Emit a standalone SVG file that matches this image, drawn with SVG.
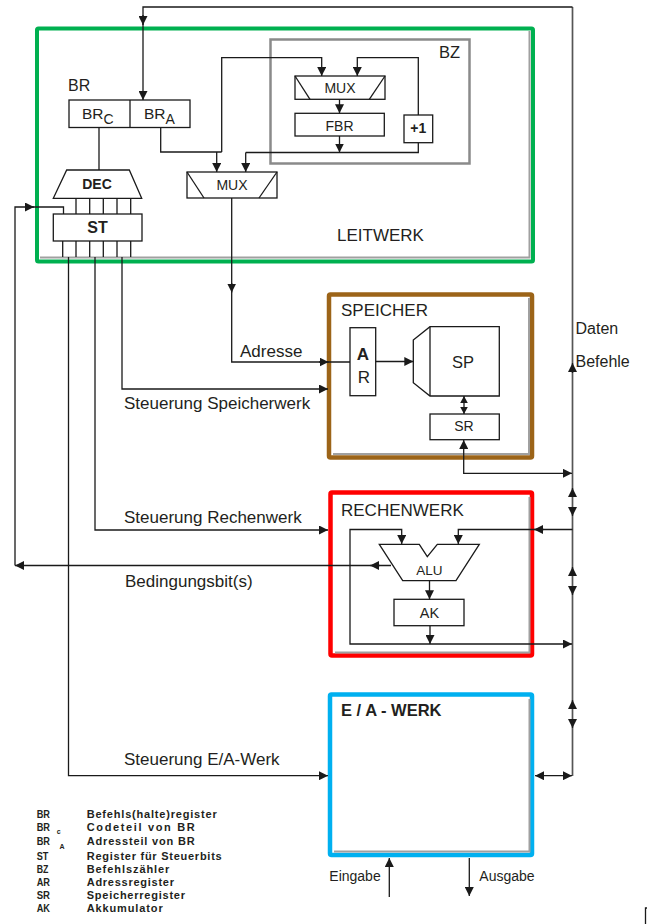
<svg xmlns="http://www.w3.org/2000/svg" width="647" height="924" viewBox="0 0 647 924">
<defs>
<marker id="ah" markerUnits="userSpaceOnUse" markerWidth="10" markerHeight="9" refX="9" refY="4.5" orient="auto-start-reverse"><path d="M0,0 L9,4.5 L0,9 z" fill="#1a1a1a"/></marker>
<marker id="as" markerUnits="userSpaceOnUse" markerWidth="8" markerHeight="8" refX="7" refY="3.8" orient="auto-start-reverse"><path d="M0,0 L7,3.8 L0,7.6 z" fill="#1a1a1a"/></marker>
<style>
.ln{fill:none;stroke:#1a1a1a;stroke-width:1.3}
.ar{fill:none;stroke:#1a1a1a;stroke-width:1.3;marker-end:url(#ah)}
.bus{fill:none;stroke:#555;stroke-width:1.7}
.box{fill:none;stroke:#1a1a1a;stroke-width:1.3}
.sh{fill:none;stroke:#a0a0a0;stroke-width:2}
.t{font-family:"Liberation Sans",Arial,Helvetica,sans-serif;fill:#231f20}
.lbl{font-size:17px}
.sm{font-size:14px}
.b{font-weight:bold}
.m{text-anchor:middle}
.lg{font-size:11px;font-weight:bold}
</style>
</defs>
<rect width="647" height="924" fill="#fff"/>

<g id="leitwerk">
<rect x="37" y="28.5" width="496" height="233" rx="1.5" fill="none" stroke="#00b050" stroke-width="4"/>
<path class="sh" d="M40,257.5 H529.5 V31"/>
<text class="t lbl" x="337" y="240.5">LEITWERK</text>
</g>

<g id="br">
<text class="t" x="68" y="90.5" font-size="16">BR</text>
<rect class="box" x="69" y="100" width="121" height="27.5"/>
<line class="ln" x1="130" y1="100" x2="130" y2="127.5"/>
<text class="t" x="82" y="118.5" font-size="15.5">BR<tspan font-size="14" dy="5">C</tspan></text>
<text class="t" x="144" y="118.5" font-size="15.5">BR<tspan font-size="14" dy="5">A</tspan></text>
</g>

<g id="dec">
<polygon class="box" points="66.7,170 129.3,170 141.7,198.3 53.3,198.3"/>
<text class="t b m" x="97" y="189.3" font-size="14">DEC</text>
</g>

<g id="st">
<rect class="box" x="53.3" y="214" width="88.7" height="27"/>
<text class="t b m" x="97.5" y="233.3" font-size="16">ST</text>
</g>

<g id="bz">
<rect x="270.5" y="39.5" width="199" height="124" fill="none" stroke="#8a8a8a" stroke-width="2.5"/>
<text class="t" x="439" y="58" font-size="16.5">BZ</text>
<g id="mux-bz">
<rect class="box" x="295" y="76" width="90" height="23.3"/>
<line class="ln" x1="295" y1="76" x2="310" y2="99.3"/>
<line class="ln" x1="385" y1="76" x2="369.3" y2="99.3"/>
<text class="t m" x="340" y="92.7" font-size="14">MUX</text>
</g>
<g id="fbr">
<rect class="box" x="295" y="113.3" width="89.3" height="22.7"/>
<text class="t m" x="339.5" y="130.7" font-size="14">FBR</text>
</g>
<g id="inc">
<rect class="box" x="404" y="115" width="28.7" height="27.7"/>
<text class="t b m" x="418.3" y="133.3" font-size="14">+1</text>
</g>
</g>

<g id="mux">
<rect class="box" x="187" y="172" width="90" height="26"/>
<line class="ln" x1="187" y1="172" x2="204" y2="198"/>
<line class="ln" x1="277" y1="172" x2="259" y2="198"/>
<text class="t m" x="232" y="190" font-size="14">MUX</text>
</g>

<g id="speicher">
<rect x="329" y="294.5" width="203" height="163" rx="1.5" fill="none" stroke="#9c6418" stroke-width="4.5"/>
<path class="sh" d="M333,454 H529 V298"/>
<text class="t lbl" x="341" y="315.7">SPEICHER</text>
<g id="ar-reg">
<rect class="box" x="350" y="327.7" width="25.7" height="68"/>
<text class="t b m" x="363" y="360" font-size="17">A</text>
<text class="t m" x="364" y="383" font-size="17">R</text>
</g>
<g id="sp">
<polygon class="box" points="413.3,340 430,326.7 499.3,326.7 499.3,396 430,396 413.3,382.7"/>
<line class="ln" x1="430" y1="326.7" x2="430" y2="396"/>
<text class="t m" x="463" y="368" font-size="16.5">SP</text>
</g>
<g id="sr">
<rect class="box" x="430" y="414" width="69.3" height="25.7"/>
<text class="t m" x="464" y="431" font-size="14">SR</text>
</g>
</g>

<g id="rechenwerk">
<rect x="330.5" y="492.5" width="201.5" height="163" rx="1.5" fill="none" stroke="#ff0000" stroke-width="4.5"/>
<path class="sh" d="M335,652.5 H529.5 V497"/>
<text class="t lbl" x="341" y="515.7">RECHENWERK</text>
<g id="alu">
<polygon class="box" points="379.3,544.3 419.3,544.3 427.3,556.7 437.3,544.3 479.3,544.3 456,580.7 402.7,580.7"/>
<text class="t m" x="429.5" y="575" font-size="13.5">ALU</text>
</g>
<g id="ak">
<rect class="box" x="394" y="599.3" width="70" height="26.4"/>
<text class="t m" x="429.5" y="618" font-size="14.5">AK</text>
</g>
</g>

<g id="ea-werk">
<rect x="330" y="694.5" width="202" height="160.5" rx="1.5" fill="none" stroke="#00b0f0" stroke-width="4.5"/>
<path class="sh" d="M334,851.5 H529.5 V699"/>
<text class="t b" x="341" y="716" font-size="16.5">E / A - WERK</text>
</g>

<g id="connectors">
<path class="bus" d="M572.5,7 V776"/>
<path class="ar" d="M572.5,373 V363"/>
<path class="ar" d="M572.5,497 V488"/>
<path class="ar" d="M572.5,507 V516"/>
<path class="ar" d="M572.5,576 V567"/>
<path class="ar" d="M572.5,586 V595"/>
<path class="ar" d="M572.5,709 V700"/>
<path class="ar" d="M572.5,719 V728"/>
<path class="ar" d="M572.5,7 H143 V100"/>
<path class="ar" d="M143,15 V25"/>
<path class="ln" d="M99,127.5 V170"/>
<path class="ln" d="M76,198.3 V214 M89.7,198.3 V214 M103.3,198.3 V214 M117,198.3 V214 M130.7,198.3 V214"/>
<path class="ln" d="M62.7,241 V257 M76,241 V257 M89.7,241 V257 M103.3,241 V257 M117,241 V257 M130.7,241 V257"/>
<path class="ar" d="M68.5,257 V775.7 H328"/>
<path class="ar" d="M95,257 V530 H328"/>
<path class="ar" d="M122,257 V389 H328"/>
<path class="ln" d="M15,565.5 V207 H63.5 V214"/>
<path class="ar" d="M25,207 H34"/>
<path class="ar" d="M391,565.5 H15"/>
<path class="ar" d="M380,565.5 H370"/>
<path class="ln" d="M160.7,127.5 V152 H221.7"/>
<path class="ar" d="M221.7,152 V57.7 H321.7 V76"/>
<path class="ar" d="M216.7,152 V172"/>
<path class="ar" d="M418.3,115 V57.7 H357.3 V76"/>
<path class="ar" d="M339.5,99.3 V113.3"/>
<path class="ar" d="M339.5,136 V152.5"/>
<path class="ln" d="M245.7,152.5 H418.3 V142.7"/>
<path class="ar" d="M245.7,152.5 V172"/>
<path class="ln" d="M231.7,198 V362 H350"/>
<path class="ar" d="M231.7,283 V292.5"/>
<path class="ar" d="M319,362 H328.5"/>
<path class="ar" d="M375.7,361.5 H413.3"/>
<path class="ln" d="M464,396 V414" style="marker-start:url(#as);marker-end:url(#as)"/>
<path class="ar" d="M463.7,440 V473.3 H572" style="marker-start:url(#ah)"/>
<path class="ar" d="M572.5,529.5 H458.3 V544"/>
<path class="ar" d="M544,529.5 H534"/>
<path class="ar" d="M401.7,544 V529.5 H350 V644 H572" style="marker-start:url(#ah)"/>
<path class="ar" d="M429.5,580.7 V599.3"/>
<path class="ar" d="M430,626 V644"/>
<path class="ar" d="M535,775.7 H572" style="marker-start:url(#ah)"/>
<path class="ar" d="M389.3,897 V858"/>
<path class="ar" d="M469.3,858 V896"/>
</g>

<g id="labels">
<text class="t lbl" x="240" y="357">Adresse</text>
<text class="t lbl" x="124" y="409.3">Steuerung Speicherwerk</text>
<text class="t lbl" x="124" y="522.7">Steuerung Rechenwerk</text>
<text class="t lbl" x="125" y="586.7">Bedingungsbit(s)</text>
<text class="t lbl" x="124" y="765">Steuerung E/A-Werk</text>
<text class="t" x="575.5" y="334.3" font-size="16">Daten</text>
<text class="t" x="575.5" y="367.3" font-size="16">Befehle</text>
<text class="t sm" x="329.3" y="881">Eingabe</text>
<text class="t sm" x="479.3" y="881">Ausgabe</text>
</g>

<g id="legend">
<text class="t lg" x="36.7" y="818" textLength="13.3" lengthAdjust="spacingAndGlyphs">BR</text>
<text class="t lg" x="36.7" y="831" textLength="13.3" lengthAdjust="spacingAndGlyphs">BR</text>
<text class="t b" x="56.7" y="833.5" font-size="7">c</text>
<text class="t lg" x="36.7" y="845" textLength="13.3" lengthAdjust="spacingAndGlyphs">BR</text>
<text class="t b" x="59.5" y="849" font-size="7">A</text>
<text class="t lg" x="36.7" y="859.5" textLength="11.7" lengthAdjust="spacingAndGlyphs">ST</text>
<text class="t lg" x="36.7" y="872.5" textLength="11.7" lengthAdjust="spacingAndGlyphs">BZ</text>
<text class="t lg" x="36.7" y="885.5" textLength="13.3" lengthAdjust="spacingAndGlyphs">AR</text>
<text class="t lg" x="36.7" y="898.5" textLength="13.3" lengthAdjust="spacingAndGlyphs">SR</text>
<text class="t lg" x="36.7" y="911.5" textLength="13.3" lengthAdjust="spacingAndGlyphs">AK</text>
<text class="t lg" x="86.7" y="818" textLength="130" lengthAdjust="spacing">Befehls(halte)register</text>
<text class="t lg" x="86.7" y="831" textLength="108" lengthAdjust="spacing">Codeteil von BR</text>
<text class="t lg" x="86.7" y="845" textLength="108" lengthAdjust="spacing">Adressteil von BR</text>
<text class="t lg" x="86.7" y="859.5" textLength="135" lengthAdjust="spacing">Register für Steuerbits</text>
<text class="t lg" x="86.7" y="872.5" textLength="82.7" lengthAdjust="spacing">Befehlszähler</text>
<text class="t lg" x="86.7" y="885.5" textLength="87.3" lengthAdjust="spacing">Adressregister</text>
<text class="t lg" x="86.7" y="898.5" textLength="98.3" lengthAdjust="spacing">Speicherregister</text>
<text class="t lg" x="86.7" y="911.5" textLength="76" lengthAdjust="spacing">Akkumulator</text>
</g>

<path class="ln" d="M648,908 H645.5 V924"/>
</svg>
